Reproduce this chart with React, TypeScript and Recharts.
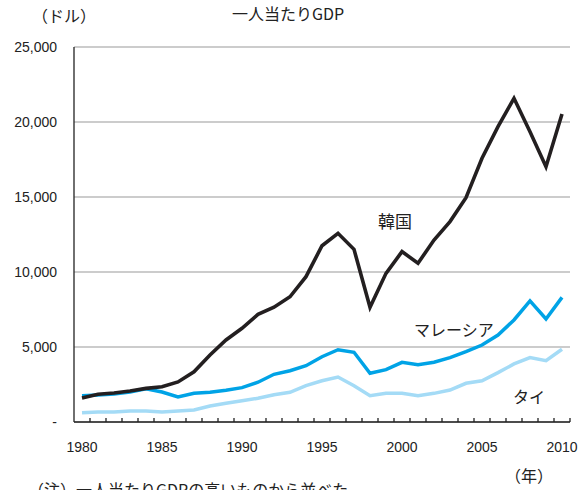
import { LineChart, Line, XAxis, YAxis, CartesianGrid } from 'recharts';

const years = [
  1980, 1981, 1982, 1983, 1984, 1985, 1986, 1987, 1988, 1989,
  1990, 1991, 1992, 1993, 1994, 1995, 1996, 1997, 1998, 1999,
  2000, 2001, 2002, 2003, 2004, 2005, 2006, 2007, 2008, 2009, 2010,
];

const korea = [
  1600, 1850, 1930, 2070, 2240, 2350, 2670, 3350, 4470, 5470,
  6250, 7180, 7650, 8350, 9690, 11750, 12580, 11510, 7650, 9910,
  11360, 10580, 12130, 13360, 14950, 17580, 19690, 21580, 19350, 17020, 20530,
];

const malaysia = [
  1750, 1800, 1870, 2000, 2220, 2000, 1670, 1910, 1980, 2110,
  2290, 2650, 3180, 3420, 3750, 4350, 4820, 4650, 3250, 3490,
  3980, 3820, 3980, 4290, 4690, 5130, 5800, 6800, 8070, 6870, 8310,
];

const thai = [
  620, 670, 670, 730, 730, 670, 730, 800, 1070, 1250,
  1420, 1580, 1820, 1980, 2420, 2750, 3000, 2420, 1750, 1910,
  1910, 1750, 1910, 2130, 2580, 2750, 3290, 3870, 4290, 4090, 4850,
];

const yearLabels = [1980, 1985, 1990, 1995, 2000, 2005, 2010];
const yTicks = [0, 5000, 10000, 15000, 20000, 25000];

const data = years.map((year, i) => ({
  year,
  korea: korea[i],
  malaysia: malaysia[i],
  thai: thai[i],
}));

// small marks sit on the boundaries between years
const boundaryTicks = years.map((y) => y + 0.5);

const numFont = "'Liberation Sans', Arial, sans-serif";
const jpFont = "'Noto Sans CJK JP', sans-serif";

function formatY(v: number) {
  if (v === 0) return '-';
  return v.toLocaleString('en-US');
}

function XTick(props: any) {
  const { x, y, payload } = props;
  const v = Number(payload.value);
  if (Math.abs(v - Math.round(v)) < 0.01) {
    return (
      <text x={x} y={y + 30} textAnchor="middle" fontSize={14} fontFamily={numFont} fill="#222">
        {v}
      </text>
    );
  }
  return <path d={`M${x},${y}v-4`} stroke="#222" strokeWidth={1.3} fill="none" />;
}

const textStyle = (left: number, top: number, size: number) => ({
  position: 'absolute' as const,
  left,
  top,
  fontSize: size,
  fontFamily: jpFont,
  color: '#222',
  whiteSpace: 'nowrap' as const,
  lineHeight: 1,
});

export default function App() {
  return (
    <div style={{ position: 'absolute', left: 0, top: 0, width: 581, height: 490, background: '#fff', overflow: 'hidden' }}>
      <LineChart
        width={581}
        height={490}
        data={data}
        margin={{ top: 47, right: 11, bottom: 38, left: 0 }}
      >
        <CartesianGrid horizontal vertical={false} stroke="#999" strokeWidth={1} />
        <XAxis
          dataKey="year"
          type="number"
          domain={[1979.5, 2010.5]}
          ticks={[...yearLabels, ...boundaryTicks]}
          interval={0}
          height={30}
          tickSize={0}
          tickMargin={0}
          tickLine={false}
          axisLine={{ stroke: '#222', strokeWidth: 1.3 }}
          tick={<XTick />}
        />
        <YAxis
          domain={[0, 25000]}
          ticks={yTicks}
          interval={0}
          width={74}
          tickSize={0}
          tickMargin={17}
          tickLine={false}
          axisLine={{ stroke: '#222', strokeWidth: 1.3 }}
          tickFormatter={formatY}
          tick={{ fontSize: 14, fontFamily: numFont, fill: '#222' }}
        />
        <Line dataKey="thai" stroke="#a4dbf6" strokeWidth={3.5} dot={false} isAnimationActive={false} />
        <Line dataKey="malaysia" stroke="#00a3e6" strokeWidth={3.5} dot={false} isAnimationActive={false} />
        <Line dataKey="korea" stroke="#231f20" strokeWidth={3.6} dot={false} isAnimationActive={false} />
      </LineChart>

      <div style={textStyle(32, 7, 16)}>（ドル）</div>
      <div style={textStyle(232, 5, 16)}>一人当たりGDP</div>
      <div style={textStyle(378, 212, 17)}>韓国</div>
      <div style={textStyle(414, 321, 16)}>マレーシア</div>
      <div style={textStyle(513, 388, 16)}>タイ</div>
      <div style={textStyle(505, 467, 16)}>（年）</div>
      <div style={textStyle(28, 481, 16)}>（注）一人当たりGDPの高いものから並べた</div>
    </div>
  );
}
